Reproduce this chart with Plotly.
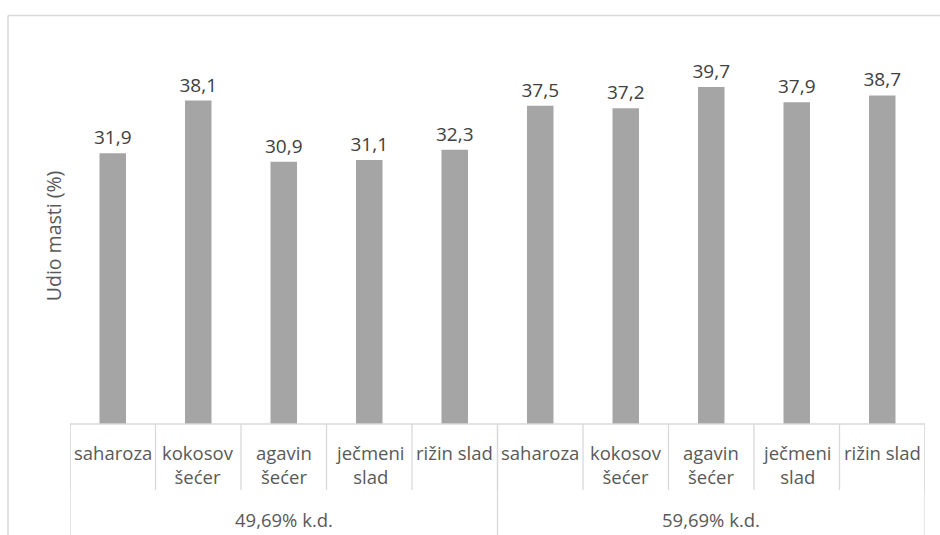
import plotly.graph_objects as go

groups = ["49,69% k.d.", "59,69% k.d."]
sweeteners = ["saharoza", "kokosov<br>šećer", "agavin<br>šećer", "ječmeni<br>slad", "rižin slad"]
values_4969 = [31.9, 38.1, 30.9, 31.1, 32.3]
values_5969 = [37.5, 37.2, 39.7, 37.9, 38.7]
y_title = "Udio masti (%)"

values = values_4969 + values_5969
n_per = len(sweeteners)
xs = list(range(len(values)))

FONT = "Open Sans"
TXT = "#595959"
LINE = "#D9D9D9"

fig = go.Figure(go.Bar(
    x=xs, y=values, width=0.31,
    marker=dict(color="#A5A5A5", line=dict(width=0)),
    texttemplate="%{y:.1f}", textposition="outside", constraintext="none",
    textfont=dict(family=FONT, size=19, color="#404040"),
    cliponaxis=False, hoverinfo="skip",
))

H0, H1 = 424, 41.5
def py(pix):
    return (H0 - pix) / (H0 - H1)

shapes = []
shapes.append(dict(type="line", xref="x", yref="paper", x0=-0.5, x1=len(values) - 0.5,
                   y0=0, y1=0, line=dict(color=LINE, width=1.3)))
for i in range(len(values) + 1):
    shapes.append(dict(type="line", xref="x", yref="paper", x0=i - 0.5, x1=i - 0.5,
                       y0=0, y1=py(490), line=dict(color=LINE, width=1.3)))
for g in range(len(groups) + 1):
    xg = g * n_per - 0.5
    shapes.append(dict(type="line", xref="x", yref="paper", x0=xg, x1=xg,
                       y0=0, y1=py(540), line=dict(color=LINE, width=1.3)))
fx0 = (8 - 70) / 855
fx1 = (945 - 70) / 855
shapes.append(dict(type="line", xref="paper", yref="paper", x0=fx0, x1=fx1,
                   y0=py(15), y1=py(15), line=dict(color=LINE, width=1.5)))
shapes.append(dict(type="line", xref="paper", yref="paper", x0=fx0, x1=fx0,
                   y0=py(15), y1=py(540), line=dict(color=LINE, width=1.5)))

annotations = []
labels = sweeteners * len(groups)
for i, lab in enumerate(labels):
    annotations.append(dict(x=xs[i], xref="x", y=py(438), yref="paper", text=lab,
                            showarrow=False, yanchor="top", xanchor="center",
                            font=dict(family=FONT, size=18.5, color=TXT)))
for g, name in enumerate(groups):
    annotations.append(dict(x=g * n_per + (n_per - 1) / 2, xref="x", y=py(520), yref="paper",
                            text=name, showarrow=False, yanchor="middle", xanchor="center",
                            font=dict(family=FONT, size=18.5, color=TXT)))
annotations.append(dict(x=(53 - 70) / 855, xref="paper", y=py(236), yref="paper", text=y_title,
                        textangle=-90, showarrow=False, xanchor="center", yanchor="middle",
                        font=dict(family=FONT, size=19.5, color=TXT)))

fig.update_layout(
    width=940, height=535,
    margin=dict(l=70, r=15, t=41.5, b=111),
    paper_bgcolor="white", plot_bgcolor="white",
    separators=",.",
    showlegend=False,
    xaxis=dict(range=[-0.5, len(values) - 0.5], showticklabels=False, showgrid=False,
               zeroline=False, showline=False, ticks=""),
    yaxis=dict(range=[0, 45], visible=False, showgrid=False, zeroline=False),
    shapes=shapes, annotations=annotations,
)

fig.write_html("out.html", config={"displayModeBar": False},
               post_script="document.body.style.margin='0';document.body.style.overflow='hidden';")
